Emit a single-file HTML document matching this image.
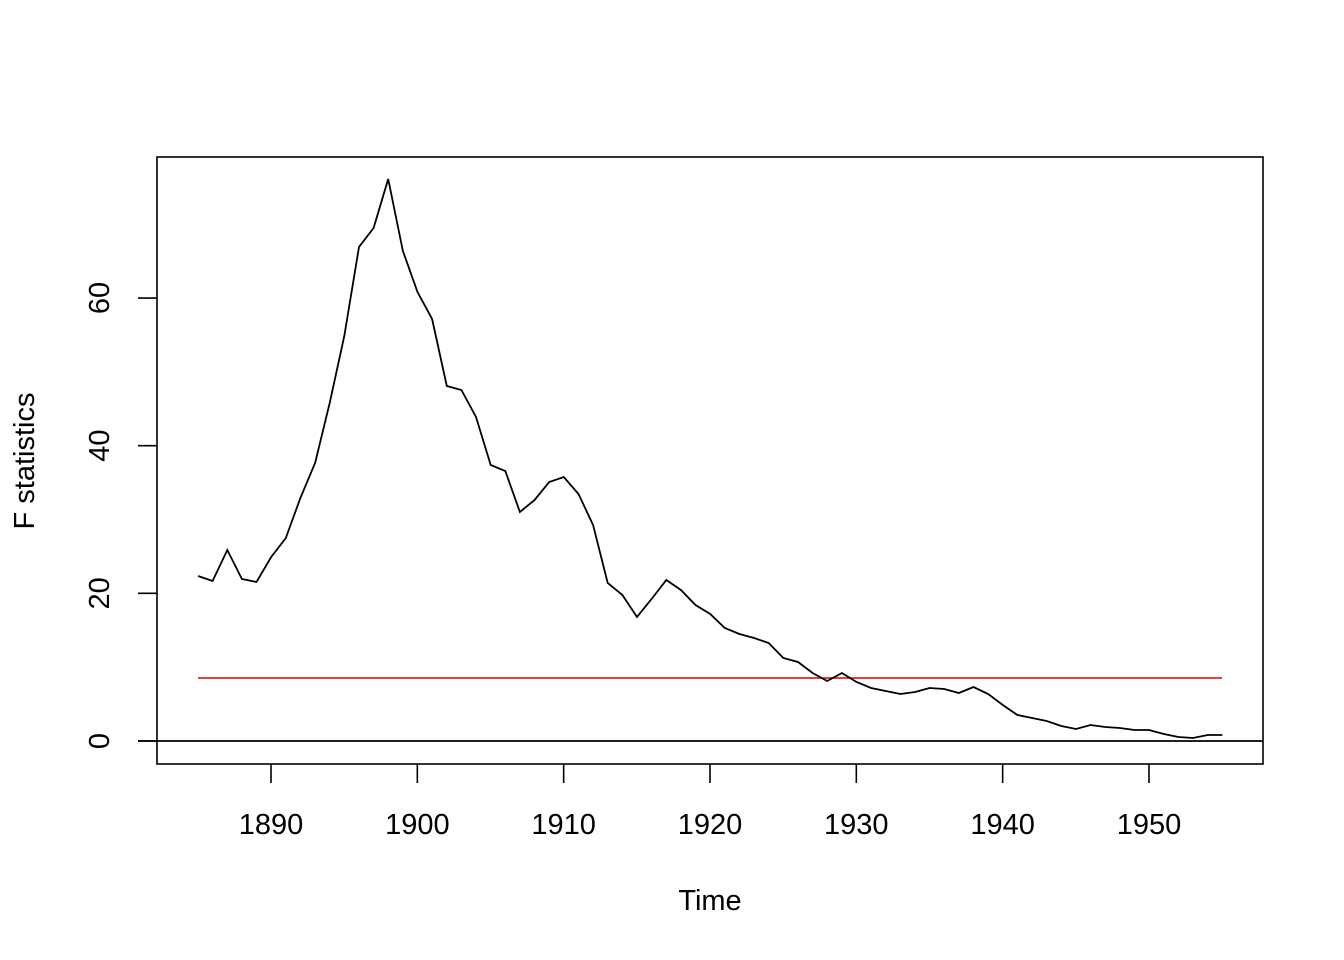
<!DOCTYPE html>
<html><head><meta charset="utf-8"><style>
html,body{margin:0;padding:0;background:#fff}
svg{display:block}
text{font-family:"Liberation Sans",Arial,sans-serif;font-size:29px;fill:#000}
</style></head><body>
<svg id="s" width="1344" height="960" viewBox="0 0 1344 960">
<rect x="157" y="157" width="1106" height="607" fill="none" stroke="#000" stroke-width="1.6"/>
<line x1="138" y1="741" x2="1263" y2="741" stroke="#000" stroke-width="1.8"/>
<line x1="198" y1="678" x2="1222" y2="678" stroke="#e00000" stroke-width="1.6"/>
<g id="ax" stroke="#000" stroke-width="1.6"></g>
<g id="lab"></g>
<polyline id="p" fill="none" stroke="#000" stroke-width="1.8"/>
<text x="710" y="910" text-anchor="middle">Time</text>
<text transform="translate(34,461) rotate(-90)" text-anchor="middle">F statistics</text>
</svg>
<script>
var v=[576,581,550,579,582,557,538,498,463,403,336,247,228,179,251,292,319,386,390,417,465,471,512,500,482,477,494,525,583,595,617,599,580,590,605,614,628,634,638,643,658,662,673,681,673,682,688,691,694,692,688,689,693,687,694,705,715,718,721,726,729,725,727,728,730,730,734,737,738,735,735];
var pts=v.map(function(y,i){return (198+i*14.633).toFixed(1)+","+y}).join(" ");
document.getElementById("p").setAttribute("points",pts);
var ax=document.getElementById("ax"),lab=document.getElementById("lab"),h="",t="";
for(var yr=1890;yr<=1950;yr+=10){var x=271+(yr-1890)*14.633;h+='<line x1="'+x+'" y1="764" x2="'+x+'" y2="783"/>';t+='<text x="'+x+'" y="834" text-anchor="middle">'+yr+'</text>';}
for(var k=0;k<=60;k+=20){var y=741-k*7.383;h+='<line x1="138" y1="'+y+'" x2="157" y2="'+y+'"/>';t+='<text transform="translate(109,'+y+') rotate(-90)" text-anchor="middle">'+k+'</text>';}
ax.innerHTML=h;lab.innerHTML=t;
</script>
</body></html>
